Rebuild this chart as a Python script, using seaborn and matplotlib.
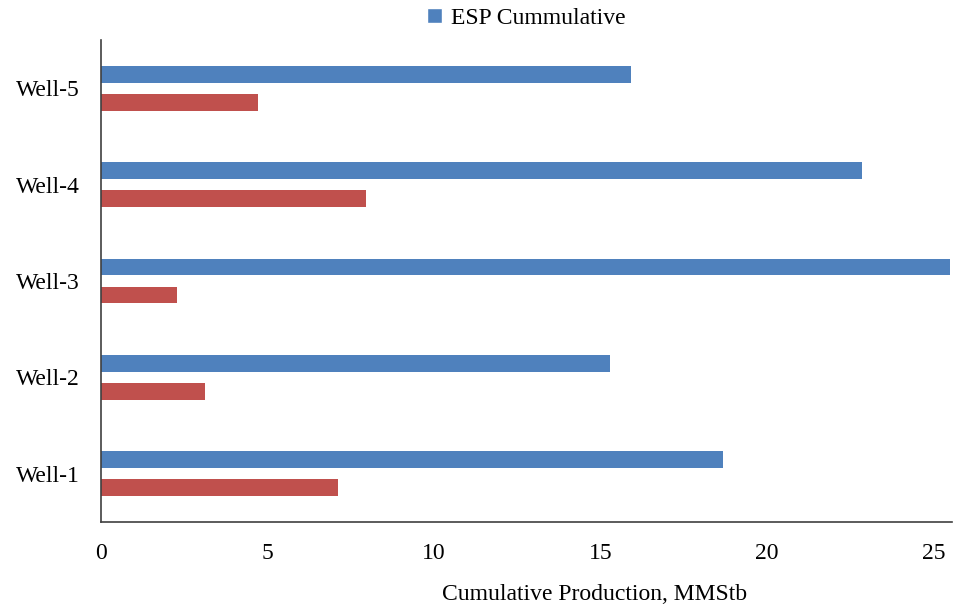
import pandas as pd
import numpy as np
import matplotlib
matplotlib.use("Agg")
import matplotlib.pyplot as plt
import seaborn as sns
from matplotlib.patches import Patch

# data
wells = ['Well-5', 'Well-4', 'Well-3', 'Well-2', 'Well-1']
esp_cum = [15.9, 22.84, 25.5, 15.28, 18.67]
other_cum = [4.71, 7.95, 2.28, 3.12, 7.11]
series = ['ESP Cummulative', 'Other Cummulative']
colors = ['#4F81BD', '#C0504D']

df = pd.DataFrame({
    'well': wells * 2,
    'value': esp_cum + other_cum,
    'series': [series[0]] * len(wells) + [series[1]] * len(wells),
})

sns.set_style("white")
plt.rcParams['font.family'] = ['Liberation Serif', 'DejaVu Serif']
plt.rcParams['text.color'] = 'black'
plt.rcParams['xtick.color'] = 'black'
plt.rcParams['ytick.color'] = 'black'
plt.rcParams['axes.labelcolor'] = 'black'

fig = plt.figure(figsize=(9.54, 6.04), dpi=100)
ax = fig.add_axes([0.1059, 0.1358, 0.892, 0.798])

sns.barplot(data=df, x='value', y='well', hue='series', order=wells,
            hue_order=series, palette=colors, width=0.58, gap=0.4,
            orient='h', ax=ax, legend=False, saturation=1, linewidth=0)

ax.set_xlim(0, 25.55)
ax.set_xticks([0, 5, 10, 15, 20, 25])
ax.set_ylabel('')
ax.set_xlabel('Cumulative Production, MMStb', fontsize=17)
ax.xaxis.set_label_coords(0.58, -0.128)
ax.tick_params(axis='both', length=0, labelsize=17)
ax.tick_params(axis='x', pad=15)
ax.tick_params(axis='y', pad=15)

for s in ['top', 'right']:
    ax.spines[s].set_visible(False)
for s in ['left', 'bottom']:
    ax.spines[s].set_color('#404040')
    ax.spines[s].set_linewidth(1.2)

handles = [Patch(facecolor=colors[0], label=series[0])]
ax.legend(handles=handles, loc='center', bbox_to_anchor=(0.5, 1.045),
          frameon=False, fontsize=17, handlelength=0.6, handleheight=0.6,
          handletextpad=0.4)

fig.savefig('out.png', dpi=100)
